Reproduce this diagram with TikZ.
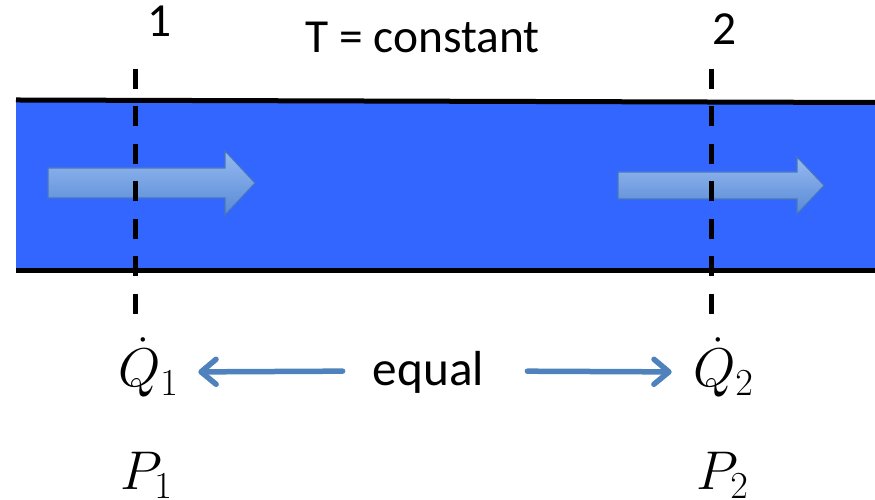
\documentclass[tikz,border=0pt]{standalone}
\usepackage{fix-cm}
\usepackage{fontspec}
\setmainfont{Carlito}
\usetikzlibrary{arrows.meta}
\definecolor{pipeblue}{RGB}{51,102,255}
\definecolor{flowlight}{RGB}{150,186,240}
\definecolor{flowdark}{RGB}{88,138,214}
\definecolor{flowedge}{RGB}{72,118,190}
\definecolor{eqblue}{RGB}{79,129,189}

\begin{document}
\begin{tikzpicture}[wall/.style={line width=0.1cm},
			section/.style={line width=0.1cm, dash pattern=on 0.4cm off 0.35cm},
			flow/.style={top color=flowlight, bottom color=flowdark, draw=flowedge, line width=0.6pt},
			label/.style={font=\fontsize{27}{31}\selectfont, inner sep=0pt, anchor=base},
			mathlabel/.style={label, scale=1.15},
			eqarrow/.style={eqblue, line width=0.11cm, line cap=round, -{Straight Barb[length=0.3cm,width=0.5cm,round]}},
			]
			\useasboundingbox (0,0) rectangle (17.5,10);
			% pipe
			\fill[pipeblue] (0.32,4.59) -- (0.32,8.0) -- (17.5,7.95) -- (17.5,4.59) -- cycle;
			\draw[wall] (0.32,8.0) -- (17.5,7.95);
			\draw[wall] (0.32,4.59) -- (17.5,4.59);
			% flow arrows
			\coordinate (flowA) at (0.96,6.34);
			\coordinate (flowB) at (12.36,6.29);
			\path[flow] (flowA) ++(0,0.3) -- ++(3.54,0) -- ++(0,0.34) -- ++(0.6,-0.64)
				-- ++(-0.6,-0.64) -- ++(0,0.34) -- ++(-3.54,0) -- cycle;
			\path[flow] (flowB) ++(0,0.27) -- ++(3.58,0) -- ++(0,0.3) -- ++(0.54,-0.57)
				-- ++(-0.54,-0.57) -- ++(0,0.3) -- ++(-3.58,0) -- cycle;
			% sections
			\coordinate (s1top) at (2.7,8.62);
			\coordinate (s1bot) at (2.7,3.72);
			\coordinate (s2top) at (14.22,8.62);
			\coordinate (s2bot) at (14.22,3.72);
			\draw[section] (s1top) -- (s1bot);
			\draw[section] (s2top) -- (s2bot);
			% labels
			\node[label] (n1) at (3.2,9.26) {1};
			\node[label] (n2) at (14.5,9.1) {2};
			\node[label] (temp) at (8.45,8.94) {T = constant};
			\node[label, font=\fontsize{28}{32}\selectfont] (equal) at (8.57,2.28) {equal};
			\node[mathlabel] (Q1) at (2.97,2.26) {$\dot{Q}_1$};
			\node[mathlabel] (Q2) at (14.47,2.26) {$\dot{Q}_2$};
			\node[mathlabel] (P1) at (2.93,0.2) {$P_1$};
			\node[mathlabel] (P2) at (14.45,0.2) {$P_2$};
			\draw[eqarrow, shorten <=0.6cm, shorten >=0.38cm] ([yshift=0.3cm]equal.base west) -- ([yshift=0.3cm]Q1.base east);
			\draw[eqarrow, shorten <=0.86cm, shorten >=0.42cm] ([yshift=0.3cm]equal.base east) -- ([yshift=0.3cm]Q2.base west);
		\end{tikzpicture}
\end{document}
